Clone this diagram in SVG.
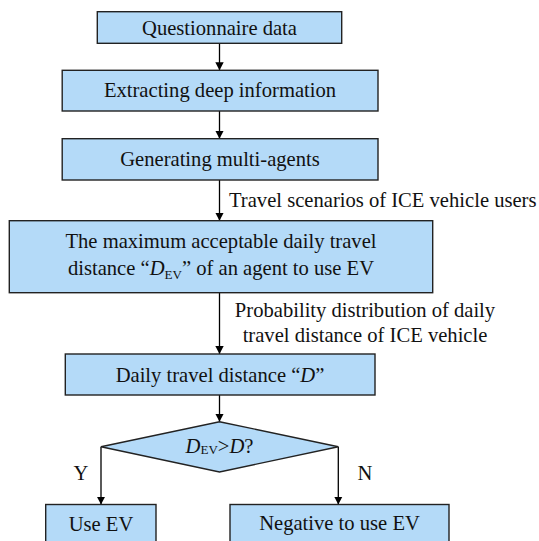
<svg xmlns="http://www.w3.org/2000/svg" width="539" height="541" viewBox="0 0 539 541">
<style>
.box{fill:#b4daf8;stroke:#222;stroke-width:1.4}
.t{font-family:"Liberation Serif","Times New Roman",serif;font-size:20.6px;fill:#111;text-anchor:middle}
.lbl{font-family:"Liberation Serif","Times New Roman",serif;font-size:20.6px;fill:#111}
.c{stroke:#000;stroke-width:1.3;fill:none;marker-end:url(#ah)}
.it{font-style:italic}
.sub{font-size:13px}
</style>
<defs>
<marker id="ah" markerWidth="8" markerHeight="10" refX="8" refY="5" orient="auto" markerUnits="userSpaceOnUse">
<path d="M0,0.8 L8,5 L0,9.2 Z" fill="#000"/>
</marker>
</defs>
<rect width="539" height="541" fill="#fff"/>
<g id="connectors">
<line class="c" x1="219.5" y1="43.3" x2="219.5" y2="70.3"/>
<line class="c" x1="219.5" y1="111" x2="219.5" y2="138.7"/>
<line class="c" x1="219.5" y1="180" x2="219.5" y2="220.7"/>
<line class="c" x1="219.5" y1="292.7" x2="219.5" y2="354"/>
<line class="c" x1="219.5" y1="395" x2="219.5" y2="421.7"/>
<line class="c" x1="101" y1="446.7" x2="101" y2="504.5"/>
<line class="c" x1="338.3" y1="446.7" x2="338.3" y2="504.5"/>
<text class="lbl" x="229" y="207">Travel scenarios of ICE vehicle users</text>
<text class="t" x="365" y="317">Probability distribution of daily</text>
<text class="t" x="365" y="341.7">travel distance of ICE vehicle</text>
<text class="t" x="81" y="480">Y</text>
<text class="t" x="365" y="480">N</text>
</g>
<g id="n1">
<rect class="box" x="97.3" y="11.7" width="244.4" height="31.6"/>
<text class="t" x="219.5" y="34.5">Questionnaire data</text>
</g>
<g id="n2">
<rect class="box" x="62.2" y="70.3" width="315.8" height="40.7"/>
<text class="t" x="220" y="97">Extracting deep information</text>
</g>
<g id="n3">
<rect class="box" x="62.2" y="138.7" width="315.8" height="41.3"/>
<text class="t" x="220" y="166">Generating multi-agents</text>
</g>
<g id="n4">
<rect class="box" x="9.3" y="220.7" width="423.4" height="72"/>
<text class="t" x="221" y="248">The maximum acceptable daily travel</text>
<text class="t" x="221" y="274.5">distance “<tspan class="it">D</tspan><tspan class="sub" dy="4">EV</tspan><tspan dy="-4">” of an agent to use EV</tspan></text>
</g>
<g id="n5">
<rect class="box" x="65.3" y="354" width="309.7" height="41"/>
<text class="t" x="220" y="381.5">Daily travel distance “<tspan class="it">D</tspan>”</text>
</g>
<g id="n6">
<polygon class="box" points="219.5,421.7 338.3,446.7 219.5,472 101,446.7"/>
<text class="t" x="219.5" y="453"><tspan class="it">D</tspan><tspan class="sub" dy="1">EV</tspan><tspan dy="-1">&gt;</tspan><tspan class="it">D</tspan>?</text>
</g>
<g id="n7">
<rect class="box" x="45.7" y="504.5" width="110.3" height="45"/>
<text class="t" x="101" y="530.5">Use EV</text>
</g>
<g id="n8">
<rect class="box" x="230" y="504.5" width="219" height="45"/>
<text class="t" x="339.5" y="529.5">Negative to use EV</text>
</g>
</svg>
